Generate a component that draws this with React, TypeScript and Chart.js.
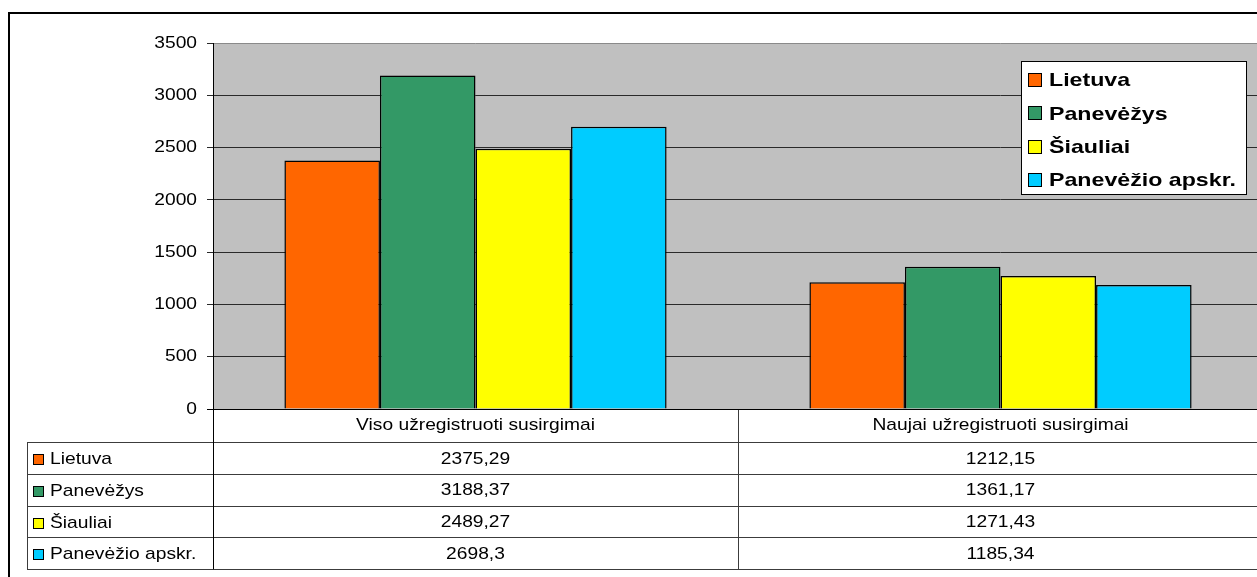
import React, { useEffect, useRef } from 'react';
import { Chart, registerables } from 'chart.js';

Chart.register(...registerables);

const categories = ['Viso užregistruoti susirgimai', 'Naujai užregistruoti susirgimai'];
const seriesNames = ['Lietuva', 'Panevėžys', 'Šiauliai', 'Panevėžio apskr.'];
const lietuva = [2375.29, 1212.15];
const panevezys = [3188.37, 1361.17];
const siauliai = [2489.27, 1271.43];
const apskr = [2698.3, 1185.34];
const seriesValues = [lietuva, panevezys, siauliai, apskr];
const seriesColors = ['#FF6600', '#339966', '#FFFF00', '#00CCFF'];
const yMin = 0;
const yMax = 3500;
const yStep = 500;

const FONT = '"Liberation Sans", Arial, Helvetica, sans-serif';
const W = 1280;
const H = 577;

function fmt(v: number) {
  return String(v).replace('.', ',');
}

function sText(ctx: CanvasRenderingContext2D, text: string, x: number, y: number, align: CanvasTextAlign, sx: number) {
  ctx.save();
  ctx.translate(x, y);
  ctx.scale(sx, 1);
  ctx.textAlign = align;
  ctx.textBaseline = 'middle';
  ctx.fillText(text, 0, 0);
  ctx.restore();
}

const crisp = (v: number) => Math.round(v) + 0.5;

const decorPlugin = {
  id: 'decor',
  beforeDraw(chart: any) {
    const { ctx, chartArea: ca } = chart;
    ctx.save();
    ctx.fillStyle = '#FFFFFF';
    ctx.fillRect(0, 0, W, H);
    ctx.fillStyle = '#C0C0C0';
    ctx.fillRect(ca.left, ca.top, ca.right - ca.left, ca.bottom - ca.top);
    ctx.restore();
  },
  afterDraw(chart: any) {
    const { ctx, chartArea: ca } = chart;
    const xs = chart.scales.x;
    const ys = chart.scales.y;
    ctx.save();

    // outer chart border
    ctx.strokeStyle = '#000';
    ctx.lineWidth = 2;
    ctx.strokeRect(9, 13, 1400, 800);

    // y tick labels
    ctx.fillStyle = '#000';
    ctx.font = `17px ${FONT}`;
    ys.ticks.forEach((t: any) => {
      sText(ctx, String(t.value), 197, ys.getPixelForValue(t.value), 'right', 1.13);
    });

    // data table
    const headerTop = ca.bottom;
    const headerH = 33;
    const rowH = 31.8;
    const tableLeft = 27;
    const rowsTop = headerTop + headerH;
    const tableBottom = rowsTop + rowH * seriesNames.length;
    const catW = xs.getPixelForValue(1) - xs.getPixelForValue(0);

    ctx.strokeStyle = '#3c3c3c';
    ctx.lineWidth = 1;
    ctx.beginPath();
    for (let i = 0; i <= seriesNames.length; i++) {
      const yy = crisp(rowsTop + i * rowH);
      ctx.moveTo(tableLeft, yy);
      ctx.lineTo(ca.right, yy);
    }
    ctx.moveTo(crisp(tableLeft), rowsTop);
    ctx.lineTo(crisp(tableLeft), tableBottom);
    categories.forEach((_, i) => {
      const bx = crisp(xs.getPixelForValue(i) + catW / 2);
      ctx.moveTo(bx, headerTop);
      ctx.lineTo(bx, tableBottom);
    });
    ctx.stroke();

    // axis lines
    ctx.strokeStyle = '#000';
    ctx.beginPath();
    ctx.moveTo(crisp(ca.left), ca.top);
    ctx.lineTo(crisp(ca.left), tableBottom);
    ctx.moveTo(ca.left - 6, crisp(ca.bottom));
    ctx.lineTo(ca.right, crisp(ca.bottom));
    ctx.stroke();

    // header labels
    ctx.fillStyle = '#000';
    ctx.font = `17px ${FONT}`;
    categories.forEach((c, i) => {
      sText(ctx, c, xs.getPixelForValue(i), headerTop + headerH / 2, 'center', 1.13);
    });

    // rows
    seriesNames.forEach((name, r) => {
      const cy = rowsTop + r * rowH + rowH / 2;
      ctx.fillStyle = seriesColors[r];
      ctx.fillRect(33, Math.round(cy - 4), 11, 11);
      ctx.strokeStyle = '#000';
      ctx.lineWidth = 1;
      ctx.strokeRect(33.5, Math.round(cy - 4) + 0.5, 10, 10);
      ctx.fillStyle = '#000';
      sText(ctx, name, 50, cy + 1.5, 'left', 1.13);
      seriesValues[r].forEach((v, i) => {
        sText(ctx, fmt(v), xs.getPixelForValue(i), cy + 1, 'center', 1.13);
      });
    });

    // legend
    const lx = 1021.5, ly = 61.5, lw = 225, lh = 133;
    ctx.fillStyle = '#FFFFFF';
    ctx.fillRect(lx, ly, lw, lh);
    ctx.strokeStyle = '#000';
    ctx.lineWidth = 1;
    ctx.strokeRect(lx, ly, lw, lh);
    ctx.font = `bold 19px ${FONT}`;
    seriesNames.forEach((name, r) => {
      const cy = 80 + r * 33.4;
      ctx.fillStyle = seriesColors[r];
      ctx.fillRect(1028, Math.round(cy - 7), 14, 14);
      ctx.strokeStyle = '#000';
      ctx.strokeRect(1028.5, Math.round(cy - 7) + 0.5, 13, 13);
      ctx.fillStyle = '#000';
      sText(ctx, name, 1049, cy + 1, 'left', 1.22);
    });

    ctx.restore();
  },
};

export default function App() {
  const ref = useRef<HTMLCanvasElement | null>(null);

  useEffect(() => {
    if (!ref.current) return;
    const chart = new Chart(ref.current, {
      type: 'bar',
      data: {
        labels: categories,
        datasets: seriesNames.map((name, i) => ({
          label: name,
          data: seriesValues[i],
          backgroundColor: seriesColors[i],
          borderColor: '#000000',
          borderWidth: 1.5,
          categoryPercentage: 0.728,
          barPercentage: 1,
        })),
      },
      options: {
        responsive: false,
        animation: false,
        events: [],
        layout: { padding: { top: 43, left: 0, right: W - 1263, bottom: H - 409 } },
        plugins: {
          legend: { display: false },
          tooltip: { enabled: false },
        },
        scales: {
          x: { display: false },
          y: {
            min: yMin,
            max: yMax,
            ticks: { stepSize: yStep, display: false },
            grid: {
              color: (c: any) => (c.tick && c.tick.value === yMax ? '#8a8a8a' : '#2a2a2a'),
              tickColor: '#2a2a2a',
              tickLength: 6,
              lineWidth: 1,
            },
            border: { display: false },
            afterFit: (scale: any) => {
              scale.width = 213;
            },
          },
        },
      },
      plugins: [decorPlugin],
    });
    return () => chart.destroy();
  }, []);

  return (
    <div style={{ position: 'fixed', left: 0, top: 0, width: 1257, height: 577, overflow: 'hidden', background: '#fff' }}>
      <canvas ref={ref} width={W} height={H} style={{ width: W, height: H, display: 'block' }} />
    </div>
  );
}
